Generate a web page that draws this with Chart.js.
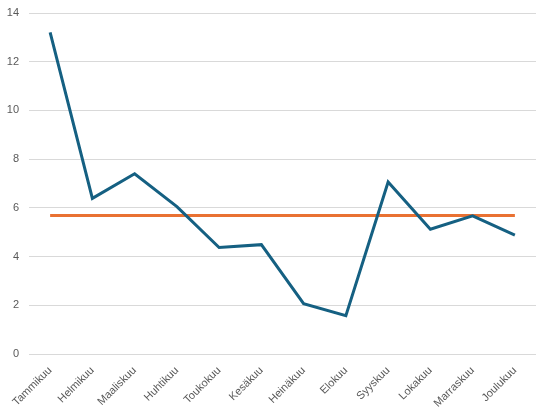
<!DOCTYPE html>
<html>
<head>
<meta charset="utf-8">
<script src="https://cdn.jsdelivr.net/npm/chart.js@4"></script>
<style>
  html, body { margin: 0; padding: 0; background: #fff; }
  #wrap { width: 549px; height: 413px; }
</style>
</head>
<body>
<div id="wrap"><canvas id="chart"></canvas></div>
<script>
const months = ['Tammikuu', 'Helmikuu', 'Maaliskuu', 'Huhtikuu', 'Toukokuu', 'Kesäkuu',
  'Heinäkuu', 'Elokuu', 'Syyskuu', 'Lokakuu', 'Marraskuu', 'Joulukuu'];
const values = [13.2, 6.39, 7.4, 6.05, 4.37, 4.49, 2.07, 1.57, 7.06, 5.12, 5.67, 4.88];
const averageValue = 5.69;
const average = months.map(() => averageValue);

const ctx = document.getElementById('chart');

new Chart(ctx, {
  type: 'line',
  data: {
    labels: months,
    datasets: [
      {
        data: values,
        borderColor: '#156082',
        borderWidth: 3,
        pointRadius: 0,
        tension: 0
      },
      {
        data: average,
        borderColor: '#E97132',
        borderWidth: 3,
        pointRadius: 0,
        tension: 0
      }
    ]
  },
  options: {
    responsive: true,
    maintainAspectRatio: false,
    animation: false,
    layout: { padding: { top: 13, right: 13, left: 0, bottom: 0 } },
    plugins: {
      legend: { display: false },
      tooltip: { enabled: false }
    },
    scales: {
      x: {
        offset: true,
        grid: { display: false },
        border: { display: false },
        ticks: {
          color: '#595959',
          font: { family: 'Liberation Sans', size: 11 },
          minRotation: 45,
          maxRotation: 45,
          padding: 2
        },
        afterFit: (axis) => { axis.height = 59; }
      },
      y: {
        min: 0,
        max: 14,
        ticks: {
          stepSize: 2,
          color: '#595959',
          font: { family: 'Liberation Sans', size: 11 },
          padding: 10
        },
        grid: { color: '#D9D9D9', drawTicks: false, lineWidth: 1 },
        border: { display: false },
        afterFit: (axis) => {
          axis.width = 29;
          axis.paddingTop = 0;
          axis.paddingBottom = 0;
        }
      }
    }
  }
});
</script>
</body>
</html>
